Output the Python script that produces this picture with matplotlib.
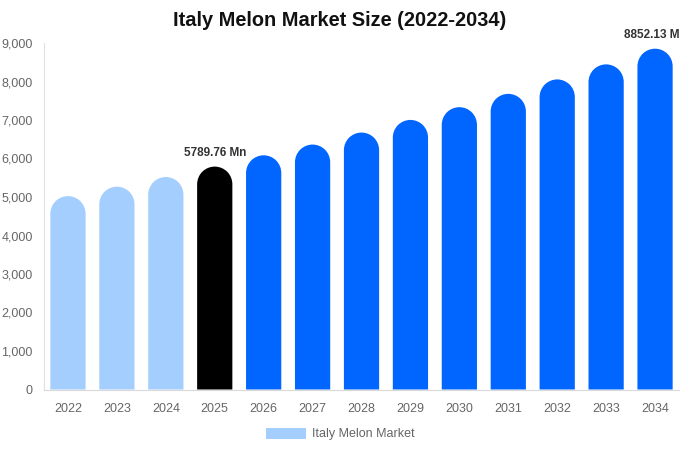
import matplotlib
matplotlib.use("Agg")
import numpy as np
import matplotlib.pyplot as plt
from matplotlib.patches import PathPatch, Patch
from matplotlib.path import Path

plt.rcParams['font.family'] = ['Liberation Sans', 'DejaVu Sans']

years = ['2022', '2023', '2024', '2025', '2026', '2027', '2028', '2029',
         '2030', '2031', '2032', '2033', '2034']
values = [5023, 5268, 5518, 5789.76, 6083, 6362, 6674, 7002,
          7333, 7679, 8054, 8445, 8852.13]
colors = ['#A3CEFD'] * 3 + ['#000000'] + ['#0066FF'] * 9
labels = {3: '5789.76 Mn', 12: '8852.13 Mn'}
yticks = [0, 1000, 2000, 3000, 4000, 5000, 6000, 7000, 8000, 9000]
series_name = 'Italy Melon Market'

W, H, DPI = 6.8, 4.5, 100
fig = plt.figure(figsize=(W, H), dpi=DPI)
ax = fig.add_axes([44 / 680, 1 - 389.5 / 450, 636 / 680, (389.5 - 43) / 450])
xmin, xmax = -0.49, 12.51
ymin, ymax = 0, 9000
ax.set_xlim(xmin, xmax)
ax.set_ylim(ymin, ymax)

ax_w_px = 636
ax_h_px = 389.5 - 43
px_per_x = ax_w_px / (xmax - xmin)
px_per_y = ax_h_px / (ymax - ymin)

bw = 0.72
r_px = bw * px_per_x / 2
ry = r_px / px_per_y

arc = Path.arc(0, 180)


def rounded_bar(xc, v):
    av = arc.vertices.copy()
    av[:, 0] = xc + av[:, 0] * bw / 2
    av[:, 1] = (v - ry) + av[:, 1] * ry
    verts = [(xc - bw / 2, 0), (xc + bw / 2, 0)]
    codes = [Path.MOVETO, Path.LINETO]
    verts += list(map(tuple, av))
    codes += [Path.LINETO] + list(arc.codes[1:])
    verts.append((xc - bw / 2, 0))
    codes.append(Path.CLOSEPOLY)
    return Path(verts, codes)


for i, (v, c) in enumerate(zip(values, colors)):
    ax.add_patch(PathPatch(rounded_bar(i, v), facecolor=c,
                           edgecolor='none', linewidth=0))
    if i in labels:
        ax.text(i, v + 210, labels[i], ha='center', va='bottom',
                fontsize=8.5, fontweight='bold', color='#333333',
                clip_on=False)

ax.set_xticks(range(len(years)))
ax.set_xticklabels(years, fontsize=9, color='#666666')
ax.set_yticks(yticks)
ax.set_yticklabels([f'{t:,}' for t in yticks], fontsize=9, color='#666666')
ax.tick_params(axis='both', length=0)
ax.tick_params(axis='x', pad=10)
ax.tick_params(axis='y', pad=8)
for s in ['top', 'right']:
    ax.spines[s].set_visible(False)
ax.spines['left'].set_color('#E0E0E0')
ax.spines['bottom'].set_color('#D9D9D9')

fig.text(0.5, 1 - 21 / 450, 'Italy Melon Market Size (2022-2034)',
         ha='center', va='center', fontsize=14.4, fontweight='bold',
         color='#111111')

fig.legend(handles=[Patch(facecolor='#A3CEFD', edgecolor='none', label=series_name)],
           loc='center', bbox_to_anchor=(0.5, 1 - 434 / 450), frameon=False,
           fontsize=9, handlelength=3.2, handleheight=1.0, labelcolor='#666666',
           handletextpad=0.5)

fig.savefig('out.png', dpi=DPI)
